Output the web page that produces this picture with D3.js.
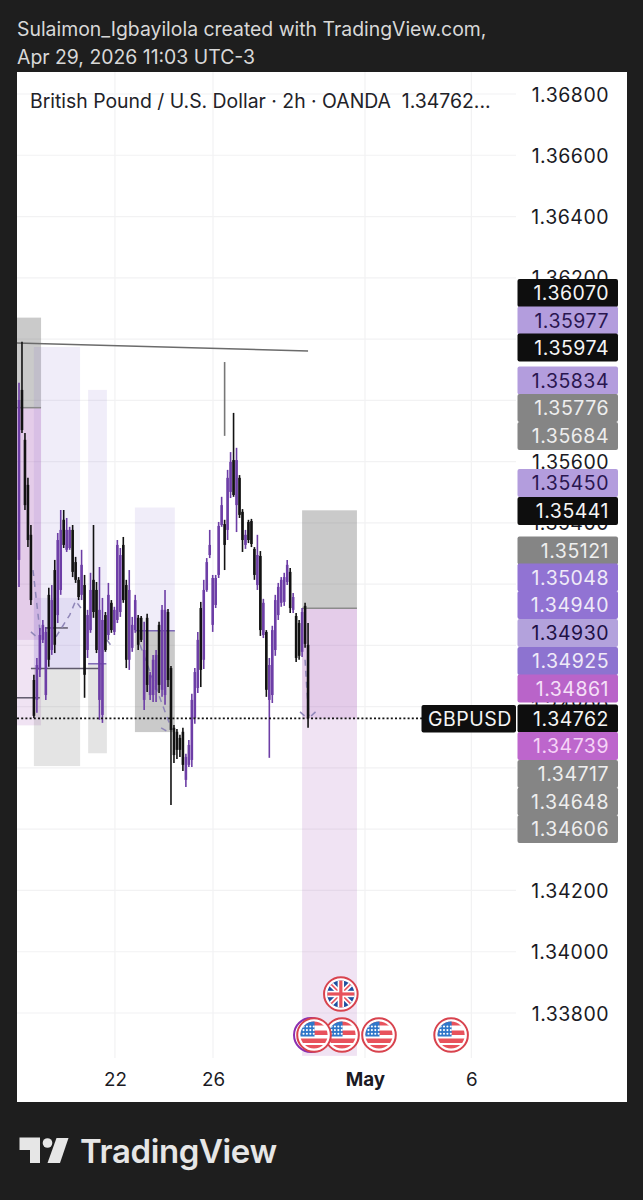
<!DOCTYPE html>
<html>
<head>
<meta charset="utf-8">
<script src="https://cdn.jsdelivr.net/npm/d3@7"></script>
<style>
  html, body { margin: 0; padding: 0; background: #1e1e1e; }
  svg { display: block; font-family: Inter, "Noto Sans", sans-serif; }
</style>
</head>
<body>
<svg id="chart" width="643" height="1200"></svg>
<script>
// GBP/USD two-hour candles, prices in 1e-5 units
const highs = [135857,135991,135693,135547,135393,134904,134959,135057,135083,135060,
135188,135197,135279,135367,135442,135442,135416,135387,135393,135289,
135223,135312,135230,135116,135237,135393,135207,135256,135155,135109,
135204,135148,135126,135344,135318,135354,135214,135246,135093,135165,
135099,135096,135077,135103,134913,134969,134985,135077,135132,135181,
135119,134933,134740,134727,134708,134731,134646,134691,134842,134926,
135044,135142,135214,135285,135377,135230,135230,135403,135485,135410,
135573,135631,135759,135645,135556,135445,135377,135410,135413,135321,
135361,135308,135152,135050,134959,135064,135165,135204,135223,135237,
135279,135253,135171,135106,135083,135122,135139,135073];
const bodyTops = [135801,135834,135671,135524,135361,134887,134936,135034,135067,135044,
135165,135148,135246,135344,135377,135410,135377,135377,135377,135272,
135214,135263,135197,135099,135181,135214,135181,135116,135083,135099,
135165,135139,135116,135328,135295,135328,135197,135181,135067,135148,
135090,135090,134985,135090,134904,134953,134969,135067,135116,135116,
135109,134926,134731,134718,134698,134718,134636,134675,134822,134913,
135018,135122,135181,135272,135328,135220,135220,135390,135458,135396,
135547,135599,135605,135605,135547,135436,135361,135403,135406,135315,
135295,135292,135139,135044,134936,135050,135148,135191,135214,135223,
135263,135240,135158,135096,135073,135109,135129,135002];
const bodyBottoms = [135279,135703,135458,135344,135148,134770,134822,134920,135018,134838,
134953,134985,135002,135099,135181,135328,135312,135318,135240,135214,
135158,135165,134904,134985,135050,135109,134985,134822,134773,134985,
135034,135050,135044,135083,135109,135148,134953,134953,134992,135050,
135002,135018,134822,134871,134838,134838,134855,134871,134855,134838,
134887,134724,134642,134659,134659,134610,134561,134610,134626,134763,
134861,134920,134953,135181,135295,135067,135132,135230,135393,135328,
135377,135501,135491,135458,135426,135344,135328,135344,135331,135230,
135197,135050,135034,134855,134822,134838,134985,135099,135139,135142,
135207,135122,135116,134959,134966,134979,135005,134762];
const lows = [135191,135693,135442,135321,135132,134763,134780,134897,135008,134822,
134930,134969,134975,135073,135165,135318,135305,135312,135223,135204,
135148,135148,134829,134959,135041,135090,134975,134757,134747,134979,
135018,135041,135034,135073,135093,135139,134926,134920,134979,135041,
134985,135011,134789,134848,134822,134815,134815,134845,134832,134806,
134864,134479,134616,134629,134636,134590,134538,134603,134603,134744,
134845,134864,134923,135175,135285,135044,135122,135220,135387,135246,
135344,135481,135485,135370,135416,135305,135315,135334,135321,135214,
135181,135031,135024,134832,134633,134812,134966,135083,135126,135129,
135197,135106,135106,134946,134953,134962,134992,134731];
const direction = "uddddduuuu" + "duduuduudd" + "duduudduud" + "uduuudduuu" + "dduduuuduu" +
                  "dddddduuuu" + "uduuuuuuud" + "uududduddd" + "ududuuuuuu" + "ududdudd";

// Time axis: labels and the bar index each one falls on
const timeLabels = ["22", "26", "May", "6"];
const timeBars = [32.2, 65.1, 116.1, 151.8];

// Price axis ticks
const priceTicks = [136800,136600,136400,136200,136000,135800,135600,135400,135200,135000,134800,134600,134400,134200,134000,133800];

// Position-tool zones: bar span, price span, fill kind
const zoneStart = [-0.7,-0.7,-0.7, 5,5,5, 23.2,23.2, 38.9,38.9, 95,95,95];
const zoneEnd   = [7.4,7.4,7.4, 20.5,20.5,20.5, 29.5,29.5, 52.3,52.3, 113.4,113.4,113.4];
const zoneTop   = [136070,135776,135776, 135974,135155,134925, 135834,134940, 135450,135048, 135441,135121,135121];
const zoneBase  = [135776,134739,135018, 134925,134925,134606, 134940,134648, 135048,134717, 135121,133660,134762];
const zoneKind  = ["gray","pink","pink", "lav","lav","pale", "lav","pale", "lav","gray", "gray","pink","pink"];
const zoneFill  = { gray: "rgba(110,110,110,0.37)", pale: "rgba(110,110,110,0.19)",
                    pink: "rgba(176,104,190,0.19)", lav: "rgba(126,98,200,0.115)" };

// Horizontal levels and the sloped resistance line
const levelStart = [-0.7, 4, 23.2, 8.7, 38.9, 95, -0.7, -0.7];
const levelEnd   = [7, 27.2, 29.3, 16.4, 52.3, 113.4, 7.4, 97];
const levelFrom  = [134829, 134925, 134940, 135057, 135048, 135121, 135776, 135987];
const levelTo    = [134829, 134925, 134940, 135057, 135048, 135121, 135776, 135961];
const levelTint  = ["#5f5a6b","#5f5a6b","#7d68b5","#5f5a6b","#7d68b5","#8b8b8b","#8b8b8b","#6b6b6b"];

// Dashed projection paths as [bar, price]
const projections = [
  [[4.7,135246],[7.05,135044]],
  [[4,135044],[6.4,135024]],
  [[12.4,135028],[17,135099],[19,135145],[20.8,135122]],
  [[29.5,135018],[31.2,134995]],
  [[40.6,135002],[51.3,134724]],
  [[47.7,134731],[50,134718]],
  [[96,134953],[96.6,134855],[97.3,134770]],
  [[94.3,134783],[97,134760]],
  [[99.5,134783],[97.3,134763]]
];

// Single long wick drawn on its own
const spikeBar = 69, spikeHigh = 135925, spikeLow = 135684;

// Last traded price
const lastPrice = 134762;

// Right-hand price tags
const tagValues = ["1.36070","1.35977","1.35974","1.35834","1.35776","1.35684","1.35450","1.35441","1.35121","1.35048","1.34940","1.34930","1.34925","1.34861","1.34762","1.34739","1.34717","1.34648","1.34606"];
const tagFills  = ["#0e0e0e","#b39ddd","#0e0e0e","#b39ddd","#858585","#858585","#b39ddd","#0e0e0e","#858585","#9173d3","#9173d3","#b3a2dc","#8d73d0","#b964c9","#0e0e0e","#bd66cc","#858585","#858585","#858585"];
const tagInks   = ["#f5f5f5","#2a1650","#f5f5f5","#2a1650","#eeeeee","#eeeeee","#2a1650","#f5f5f5","#eeeeee","#efeaf8","#efeaf8","#201045","#efeaf8","#f5e0f7","#f5f5f5","#f6d3f7","#eeeeee","#eeeeee","#eeeeee"];
const tagRows   = [293,320.5,347.5,380.5,408,436,483,511,550.5,577.5,605,633,661,688.5,718.5,746,774,801.5,829];

// Economic calendar markers
const eventBars = [99, 108, 108.4, 120.8, 145];
const eventRows = [1035, 994, 1035, 1035, 1035];
const eventFlags = ["us", "uk", "us", "us", "us"];

const svg = d3.select("#chart");
const card = { left: 17, right: 627, top: 72, bottom: 1102 };
const plotRight = 516;
const labelType = sel => sel.attr("font-size", 19.5).attr("letter-spacing", 0.5);

const x = d3.scaleLinear().domain([0, 97]).range([19, 308.06]);
const y = d3.scaleLinear().domain([136800, 133800]).range([94, 1013]);

svg.append("rect").attr("width", 643).attr("height", 1200).attr("fill", "#1e1e1e");
svg.append("rect").attr("x", card.left).attr("y", card.top)
  .attr("width", card.right - card.left).attr("height", card.bottom - card.top).attr("fill", "#ffffff");

// Header lines
svg.append("text").attr("x", 17).attr("y", 36).attr("fill", "#d8d8d8").attr("font-size", 19.4)
  .text("Sulaimon_Igbayilola created with TradingView.com,");
svg.append("text").attr("x", 17).attr("y", 64).attr("fill", "#d8d8d8").attr("font-size", 19.4)
  .text("Apr 29, 2026 11:03 UTC-3");

const defs = svg.append("defs");
defs.append("clipPath").attr("id", "plot").append("rect")
  .attr("x", card.left).attr("y", card.top).attr("width", plotRight - card.left).attr("height", card.bottom - card.top);

// Gridlines
const gridH = svg.append("g");
gridH.selectAll("line").data(priceTicks).join("line")
  .attr("x1", card.left).attr("x2", plotRight).attr("y1", d => y(d)).attr("y2", d => y(d))
  .attr("stroke", "#f2f2f3").attr("stroke-width", 1.2);
const gridV = svg.append("g");
gridV.selectAll("line").data(timeBars).join("line")
  .attr("y1", card.top).attr("y2", 1058).attr("x1", d => x(d)).attr("x2", d => x(d))
  .attr("stroke", "#f2f2f3").attr("stroke-width", 1.2);

const plot = svg.append("g").attr("clip-path", "url(#plot)");

// Zones
plot.append("g").selectAll("rect").data(zoneStart.map((s, i) => i)).join("rect")
  .attr("x", i => x(zoneStart[i]))
  .attr("width", i => x(zoneEnd[i]) - x(zoneStart[i]))
  .attr("y", i => y(zoneTop[i]))
  .attr("height", i => y(zoneBase[i]) - y(zoneTop[i]))
  .attr("fill", i => zoneFill[zoneKind[i]]);

// Levels
plot.append("g").selectAll("line").data(levelStart.map((s, i) => i)).join("line")
  .attr("x1", i => x(levelStart[i])).attr("x2", i => x(levelEnd[i]))
  .attr("y1", i => y(levelFrom[i])).attr("y2", i => y(levelTo[i]))
  .attr("stroke", i => levelTint[i]).attr("stroke-width", 1.5);

// Dashed projections
const pathLine = d3.line().x(d => x(d[0])).y(d => y(d[1]));
plot.append("g").selectAll("path").data(projections).join("path")
  .attr("d", pathLine).attr("fill", "none").attr("stroke", "#8f86b8")
  .attr("stroke-width", 1.5).attr("stroke-dasharray", "6 5");

// Spike wick
plot.append("line").attr("x1", x(spikeBar)).attr("x2", x(spikeBar))
  .attr("y1", y(spikeHigh)).attr("y2", y(spikeLow)).attr("stroke", "#777777").attr("stroke-width", 1.6);

// Candles
const candleInk = i => direction[i] === "u" ? "#6d3ea6" : "#121212";
const candles = plot.append("g").selectAll("g").data(highs.map((h, i) => i)).join("g");
candles.append("line")
  .attr("x1", i => x(i)).attr("x2", i => x(i))
  .attr("y1", i => y(highs[i])).attr("y2", i => y(lows[i]))
  .attr("stroke", candleInk).attr("stroke-width", 1.6);
candles.append("rect")
  .attr("x", i => x(i) - 1.3).attr("width", 2.6)
  .attr("y", i => y(bodyTops[i])).attr("height", i => y(bodyBottoms[i]) - y(bodyTops[i]))
  .attr("fill", candleInk);

// Last price dotted line
svg.append("line").attr("x1", card.left).attr("x2", 422)
  .attr("y1", y(lastPrice)).attr("y2", y(lastPrice))
  .attr("stroke", "#111111").attr("stroke-width", 1.8).attr("stroke-dasharray", "2 2.2");

// Price axis
const priceAxis = d3.axisRight(y).tickValues(priceTicks).tickSize(0).tickFormat(d => (d / 1e5).toFixed(5));
const priceG = svg.append("g").attr("transform", "translate(609,0)").call(priceAxis);
priceG.select(".domain").remove();
priceG.selectAll("text").attr("x", 0).attr("dy", "0.36em").attr("text-anchor", "end")
  .attr("font-family", "Inter, sans-serif").attr("fill", "#1a1a24").call(labelType);

// Time axis
const timeAxis = d3.axisBottom(x).tickValues(timeBars).tickSize(0)
  .tickFormat((d, i) => timeLabels[i]);
const timeG = svg.append("g").attr("transform", "translate(0,1071)").call(timeAxis);
timeG.select(".domain").remove();
timeG.selectAll("text").attr("y", 0).attr("dy", "0.8em")
  .attr("font-family", "Inter, sans-serif").attr("font-size", 18.8).attr("fill", "#1a1a24")
  .attr("font-weight", (d, i) => timeLabels[i] === "May" ? 700 : 400);

// Instrument title
svg.append("text").attr("x", 30).attr("y", 107.5).attr("fill", "#222228").attr("font-size", 19.4)
  .attr("xml:space", "preserve")
  .text("British Pound / U.S. Dollar · 2h · OANDA  1.34762...");

// Price tags
const tags = svg.append("g").selectAll("g").data(tagValues).join("g")
  .attr("transform", (d, i) => `translate(0,${tagRows[i]})`);
tags.append("rect").attr("x", 517.5).attr("y", -13.9).attr("width", 100.5).attr("height", 27.8).attr("rx", 2)
  .attr("fill", (d, i) => tagFills[i]);
tags.append("text").attr("x", 609).attr("dy", "0.36em").attr("text-anchor", "end")
  .attr("fill", (d, i) => tagInks[i]).call(labelType).text(d => d);

// Symbol tag beside the last price
svg.append("rect").attr("x", 421.5).attr("y", 705).attr("width", 94.5).attr("height", 27.4).attr("rx", 2).attr("fill", "#0e0e0e");
svg.append("text").attr("x", 428).attr("y", 718.7).attr("dy", "0.36em").attr("fill", "#f5f5f5").call(labelType).text("GBPUSD");

// Calendar flags
let flagId = 0;
function drawFlag(g, kind) {
  const id = "flag" + (flagId++);
  defs.append("clipPath").attr("id", id).append("circle").attr("r", 13.6);
  g.append("circle").attr("r", 16.8).attr("fill", "#ffffff").attr("stroke", "#d8434e").attr("stroke-width", 2);
  const f = g.append("g").attr("clip-path", `url(#${id})`);
  f.append("rect").attr("x", -14).attr("y", -14).attr("width", 28).attr("height", 28).attr("fill", "#ffffff");
  if (kind === "us") {
    [[-14, 4.5], [-4.5, 4.5], [3.5, 4.5], [10, 4.5]].forEach(s =>
      f.append("rect").attr("x", -14).attr("y", s[0]).attr("width", 28).attr("height", s[1]).attr("fill", "#e8525c"));
    f.append("rect").attr("x", -14).attr("y", -14).attr("width", 14.5).attr("height", 15.5).attr("fill", "#3077c9");
    d3.range(3).forEach(r => d3.range(4).forEach(c =>
      f.append("circle").attr("cx", -10.5 + c * 3.4).attr("cy", -8.5 + r * 3.6).attr("r", 1.05).attr("fill", "#ffffff")));
  } else {
    f.append("rect").attr("x", -14).attr("y", -14).attr("width", 28).attr("height", 28).attr("fill", "#1f4f9f");
    [[-14, -14, 14, 14], [14, -14, -14, 14]].forEach(l =>
      f.append("line").attr("x1", l[0]).attr("y1", l[1]).attr("x2", l[2]).attr("y2", l[3]).attr("stroke", "#ffffff").attr("stroke-width", 5));
    [[-14, -14, 14, 14], [14, -14, -14, 14]].forEach(l =>
      f.append("line").attr("x1", l[0]).attr("y1", l[1]).attr("x2", l[2]).attr("y2", l[3]).attr("stroke", "#e8525c").attr("stroke-width", 1.6));
    f.append("rect").attr("x", -14).attr("y", -3.2).attr("width", 28).attr("height", 6.4).attr("fill", "#ffffff");
    f.append("rect").attr("x", -3.2).attr("y", -14).attr("width", 6.4).attr("height", 28).attr("fill", "#ffffff");
    f.append("rect").attr("x", -14).attr("y", -1.6).attr("width", 28).attr("height", 3.2).attr("fill", "#e8525c");
    f.append("rect").attr("x", -1.6).attr("y", -14).attr("width", 3.2).attr("height", 28).attr("fill", "#e8525c");
  }
}
// Purple ring peeking out behind the first marker
svg.append("circle").attr("cx", x(eventBars[0]) - 3).attr("cy", eventRows[0]).attr("r", 17)
  .attr("fill", "#ffffff").attr("stroke", "#8b2fb0").attr("stroke-width", 2);
[2, 3, 4, 0, 1].forEach(i => {
  const g = svg.append("g").attr("transform", `translate(${x(eventBars[i])},${eventRows[i]})`);
  drawFlag(g, eventFlags[i]);
});

// Brand mark and wordmark
const brand = svg.append("g").attr("fill", "#e6e6e6");
brand.append("path").attr("d", "M19.5 1137.5H40V1163H30V1150H19.5Z");
brand.append("circle").attr("cx", 47.5).attr("cy", 1143).attr("r", 4.8);
brand.append("path").attr("d", "M56.5 1138H68.5L60 1163H47.5Z");
brand.append("text").attr("x", 80).attr("y", 1163).attr("font-size", 33).attr("font-weight", 600)
  .attr("letter-spacing", "-0.4").text("TradingView");
</script>
</body>
</html>
